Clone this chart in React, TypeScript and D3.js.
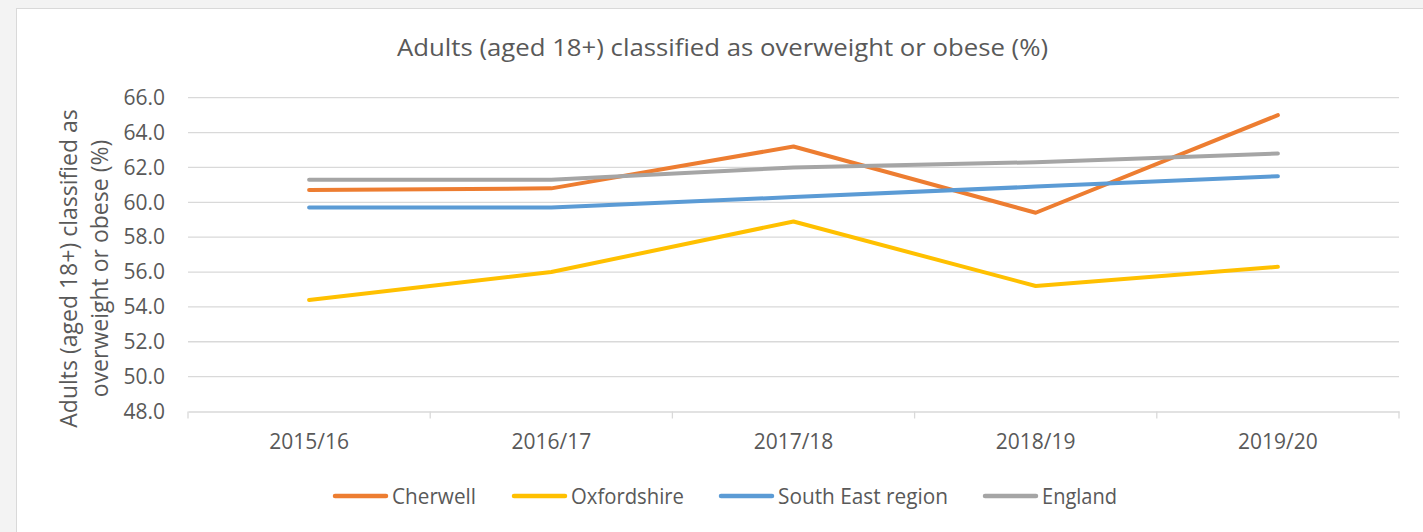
import React, { useEffect, useRef } from "react";
import * as d3 from "d3";

// chart data
const years = ["2015/16", "2016/17", "2017/18", "2018/19", "2019/20"];
const cherwell = [60.7, 60.8, 63.2, 59.4, 65.0];
const oxfordshire = [54.4, 56.0, 58.9, 55.2, 56.3];
const southEast = [59.7, 59.7, 60.3, 60.9, 61.5];
const england = [61.3, 61.3, 62.0, 62.3, 62.8];
const yTicks = [48, 50, 52, 54, 56, 58, 60, 62, 64, 66];

const seriesNames = ["Cherwell", "Oxfordshire", "South East region", "England"];
const seriesColors = ["#ED7D31", "#FFC000", "#5B9BD5", "#A5A5A5"];

const W = 1423;
const H = 532;
const FONT = "'Open Sans', 'Noto Sans', sans-serif";
const TXT = "#595959";

function LineChart() {
  const svgRef = useRef<SVGSVGElement>(null);

  useEffect(() => {
    const svg = d3.select(svgRef.current);
    svg.selectAll("*").remove();

    const margin = { left: 188, right: 24, top: 97.7, bottom: 121 };
    const innerW = W - margin.left - margin.right;

    // background + chart area
    svg.append("rect").attr("width", W).attr("height", H).attr("fill", "#f3f3f3");
    svg
      .append("rect")
      .attr("x", 16.5)
      .attr("y", 8.5)
      .attr("width", W)
      .attr("height", H)
      .attr("fill", "#ffffff")
      .attr("stroke", "#d9d9d9");

    const x = d3.scaleBand().domain(years).range([margin.left, margin.left + innerW]);
    const y = d3.scaleLinear().domain([48, 66]).range([411.5, margin.top]);

    // gridlines
    svg
      .append("g")
      .selectAll("line")
      .data(yTicks.slice(1))
      .join("line")
      .attr("x1", margin.left)
      .attr("x2", margin.left + innerW)
      .attr("y1", (d) => y(d))
      .attr("y2", (d) => y(d))
      .attr("stroke", "#d9d9d9")
      .attr("stroke-width", 1.3);

    // x axis
    const xAxis = d3.axisBottom(x).tickSize(0).tickPadding(23);
    const gx = svg.append("g").attr("transform", `translate(0,${y(48)})`).call(xAxis);
    gx.select(".domain").attr("stroke", "#d9d9d9").attr("stroke-width", 1.3);
    gx.selectAll("text")
      .attr("fill", TXT)
      .style("font-family", FONT)
      .style("font-size", "21px");
    const bounds = years.map((yr) => x(yr) as number).concat([margin.left + innerW]);
    gx.selectAll(".bound")
      .data(bounds)
      .join("line")
      .attr("class", "bound")
      .attr("x1", (d) => d)
      .attr("x2", (d) => d)
      .attr("y1", 0)
      .attr("y2", 7)
      .attr("stroke", "#d9d9d9")
      .attr("stroke-width", 1.3);

    // y axis labels
    const yAxis = d3
      .axisLeft(y)
      .tickValues(yTicks)
      .tickSize(0)
      .tickPadding(23)
      .tickFormat(d3.format(".1f"));
    const gy = svg.append("g").attr("transform", `translate(${margin.left},0)`).call(yAxis);
    gy.select(".domain").remove();
    gy.selectAll("text")
      .attr("fill", TXT)
      .style("font-family", FONT)
      .style("font-size", "21px");

    // lines
    const all = [cherwell, oxfordshire, southEast, england];
    const line = d3
      .line<number>()
      .x((_, i) => (x(years[i]) as number) + x.bandwidth() / 2)
      .y((d) => y(d));
    svg
      .append("g")
      .selectAll("path")
      .data(all)
      .join("path")
      .attr("d", (d) => line(d))
      .attr("fill", "none")
      .attr("stroke", (_, i) => seriesColors[i])
      .attr("stroke-width", 4)
      .attr("stroke-linecap", "round")
      .attr("stroke-linejoin", "round");

    // title
    svg
      .append("text")
      .attr("x", 722.5)
      .attr("y", 56)
      .attr("text-anchor", "middle")
      .attr("textLength", 651)
      .attr("lengthAdjust", "spacingAndGlyphs")
      .attr("fill", TXT)
      .style("font-family", FONT)
      .style("font-size", "24px")
      .text("Adults (aged 18+) classified as overweight or obese (%)");

    // y axis title
    const yt = svg
      .append("text")
      .attr("transform", `translate(0,268.5) rotate(-90)`)
      .attr("text-anchor", "middle")
      .attr("fill", TXT)
      .style("font-family", FONT)
      .style("font-size", "23px");
    yt.append("tspan").attr("x", 0).attr("y", 77).text("Adults (aged 18+) classified as");
    yt.append("tspan").attr("x", 0).attr("y", 108).text("overweight or obese (%)");

    // legend
    const legendX = [333, 512, 719, 983];
    const legendLen = [84, 113, 170, 75];
    const lg = svg
      .append("g")
      .selectAll("g")
      .data(seriesNames)
      .join("g")
      .attr("transform", (_, i) => `translate(${legendX[i]},496)`);
    lg.append("line")
      .attr("x1", 2)
      .attr("x2", 53)
      .attr("stroke", (_, i) => seriesColors[i])
      .attr("stroke-width", 4.5)
      .attr("stroke-linecap", "round");
    lg.append("text")
      .attr("x", 59)
      .attr("y", 7.5)
      .attr("textLength", (_, i) => legendLen[i])
      .attr("lengthAdjust", "spacingAndGlyphs")
      .attr("fill", TXT)
      .style("font-family", FONT)
      .style("font-size", "21px")
      .text((d) => d);
  }, []);

  return <svg ref={svgRef} width={W} height={H} style={{ display: "block" }} />;
}

export default function App() {
  useEffect(() => {
    document.body.style.margin = "0";
  }, []);
  return <LineChart />;
}
